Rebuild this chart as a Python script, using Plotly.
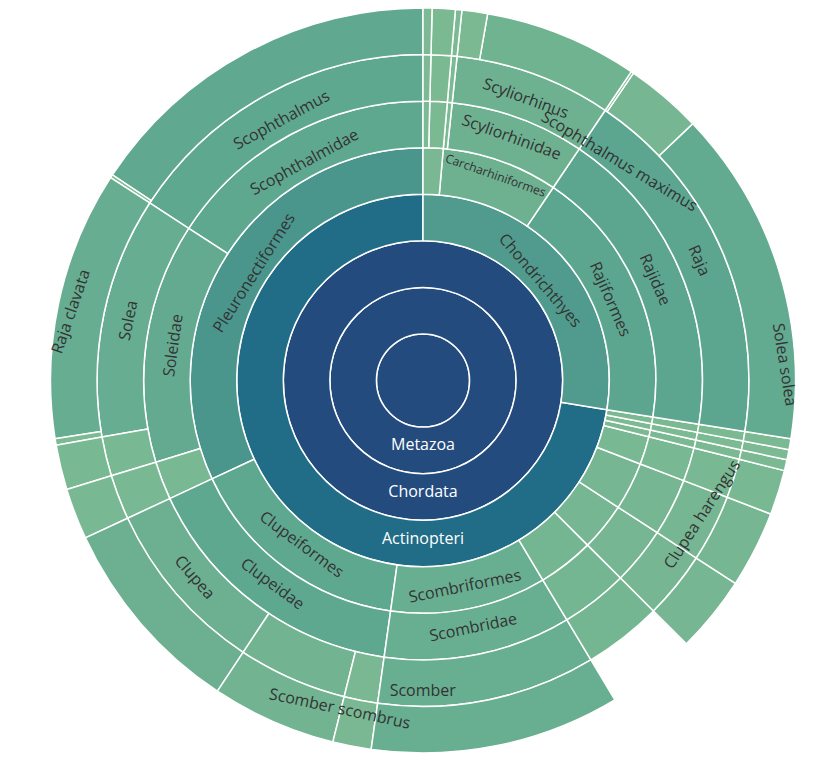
import plotly.graph_objects as go

# taxonomy nodes: id, parent, value (share of the circle, degrees)
ids = [
    "Eukaryota", "Metazoa", "Chordata",
    "Actinopteri",
    "Pleuronectiformes", "Scophthalmidae", "Scophthalmus", "Scophthalmus maximus", "Scophthalmus rhombus",
    "Soleidae", "Solea", "Solea solea", "Solea senegalensis", "Microchirus", "Microchirus variegatus",
    "Pleuronectidae", "Pleuronectes", "Pleuronectes platessa",
    "Clupeiformes", "Clupeidae", "Clupea", "Clupea harengus", "Sardina", "Sardina pilchardus",
    "Sprattus", "Sprattus sprattus",
    "Scombriformes", "Scombridae", "Scomber", "Scomber scombrus",
    "Gadiformes", "Gadidae", "Gadus",
    "Perciformes", "Moronidae", "Dicentrarchus", "Dicentrarchus labrax",
    "Salmoniformes", "Salmonidae", "Salmo", "Salmo salar",
    "Anguilliformes", "Anguillidae", "Anguilla", "Anguilla anguilla",
    "Mugiliformes", "Mugilidae", "Chelon", "Chelon labrosus",
    "Zeiformes", "Zeidae", "Zeus", "Zeus faber",
    "Lophiiformes", "Lophiidae", "Lophius", "Lophius piscatorius",
    "Chondrichthyes",
    "Rajiformes", "Rajidae", "Raja", "Raja clavata", "Raja brachyura", "Raja montagui",
    "Carcharhiniformes", "Scyliorhinidae", "Scyliorhinus", "Scyliorhinus canicula", "Scyliorhinus stellaris",
    "Triakidae", "Mustelus", "Mustelus asterias",
    "Squaliformes", "Squalidae", "Squalus", "Squalus acanthias",
    "Etmopteridae", "Etmopterus", "Etmopterus spinax",
]
parents = [
    "", "Eukaryota", "Metazoa",
    "Chordata",
    "Actinopteri", "Pleuronectiformes", "Scophthalmidae", "Scophthalmus", "Scophthalmus",
    "Pleuronectiformes", "Soleidae", "Solea", "Solea", "Soleidae", "Microchirus",
    "Pleuronectiformes", "Pleuronectidae", "Pleuronectes",
    "Actinopteri", "Clupeiformes", "Clupeidae", "Clupea", "Clupeidae", "Sardina",
    "Clupeidae", "Sprattus",
    "Actinopteri", "Scombriformes", "Scombridae", "Scomber",
    "Actinopteri", "Gadiformes", "Gadidae",
    "Actinopteri", "Perciformes", "Moronidae", "Dicentrarchus",
    "Actinopteri", "Salmoniformes", "Salmonidae", "Salmo",
    "Actinopteri", "Anguilliformes", "Anguillidae", "Anguilla",
    "Actinopteri", "Mugiliformes", "Mugilidae", "Chelon",
    "Actinopteri", "Zeiformes", "Zeidae", "Zeus",
    "Actinopteri", "Lophiiformes", "Lophiidae", "Lophius",
    "Chordata",
    "Chondrichthyes", "Rajiformes", "Rajidae", "Raja", "Raja", "Raja",
    "Chondrichthyes", "Carcharhiniformes", "Scyliorhinidae", "Scyliorhinus", "Scyliorhinus",
    "Carcharhiniformes", "Triakidae", "Mustelus",
    "Chondrichthyes", "Squaliformes", "Squalidae", "Squalus",
    "Squaliformes", "Etmopteridae", "Etmopterus",
]
values = [
    360, 360, 360,
    261,
    115, 57, 57, 56.5, 0.5,
    50, 43, 42, 1, 7, 7,
    8, 8, 8,
    57, 57, 31.5, 31.5, 19.5, 19.5,
    6, 6,
    39, 39, 39, 39,
    14, 14, 14,
    12, 12, 12, 12,
    12, 12, 12, 12,
    7, 7, 7, 7,
    1.7, 1.7, 1.7, 1.7,
    1.6, 1.6, 1.6, 1.6,
    1.7, 1.7, 1.7, 1.7,
    99,
    65, 65, 65, 52.6, 12, 0.4,
    29, 28, 28, 24, 4,
    1, 1, 1,
    5, 3.6, 3.6, 3.6,
    1.4, 1.4, 1.4,
]

# labels drawn inside the rings
shown = {"Metazoa", "Chordata", "Actinopteri", "Chondrichthyes",
         "Pleuronectiformes", "Scophthalmidae", "Scophthalmus", "Soleidae", "Solea",
         "Clupeiformes", "Clupeidae", "Clupea", "Scombriformes", "Scombridae", "Scomber",
         "Rajiformes", "Rajidae", "Raja", "Carcharhiniformes", "Scyliorhinidae", "Scyliorhinus"}
dark = {"Eukaryota", "Metazoa", "Chordata", "Actinopteri"}

# species labels placed outside the circle: (text, x px, y px, angle)
outer_labels = [
    ("Scophthalmus maximus", 697, 95, 31),
    ("Solea solea", 797, 357, 81),
    ("Clupea harengus", 740, 568, -57),
    ("Scomber scombrus", 257, 728, 12),
    ("Raja clavata", 35, 303, -71),
]

colorscale = [[0, "#7cba92"], [0.16, "#5fa890"], [0.32, "#4a968d"],
              [0.72, "#216e87"], [1, "#244b7e"]]

fig = go.Figure(go.Sunburst(
    ids=ids,
    labels=ids,
    parents=parents,
    values=values,
    branchvalues="total",
    sort=False,
    rotation=90,
    texttemplate=["%{label}" if i in shown else "" for i in ids],
    insidetextorientation="tangential",
    insidetextfont=dict(family="Open Sans", size=16,
                        color=["white" if i in dark else "#333333" for i in ids]),
    marker=dict(colors=values, colorscale=colorscale, cmin=0, cmax=360,
                line=dict(color="white", width=1.5)),
    domain=dict(x=[42 / 832, 788 / 832], y=[22 / 767, 1.0]),
))

for text, px_, py_, ang in outer_labels:
    fig.add_annotation(text=text, x=px_ / 832, y=1 - py_ / 767, xref="paper", yref="paper",
                       showarrow=False, textangle=ang,
                       font=dict(family="Open Sans", size=16, color="#333333"))

fig.update_layout(width=832, height=767, margin=dict(l=0, r=0, t=0, b=0),
                  paper_bgcolor="white")
fig.write_html("out.html")
